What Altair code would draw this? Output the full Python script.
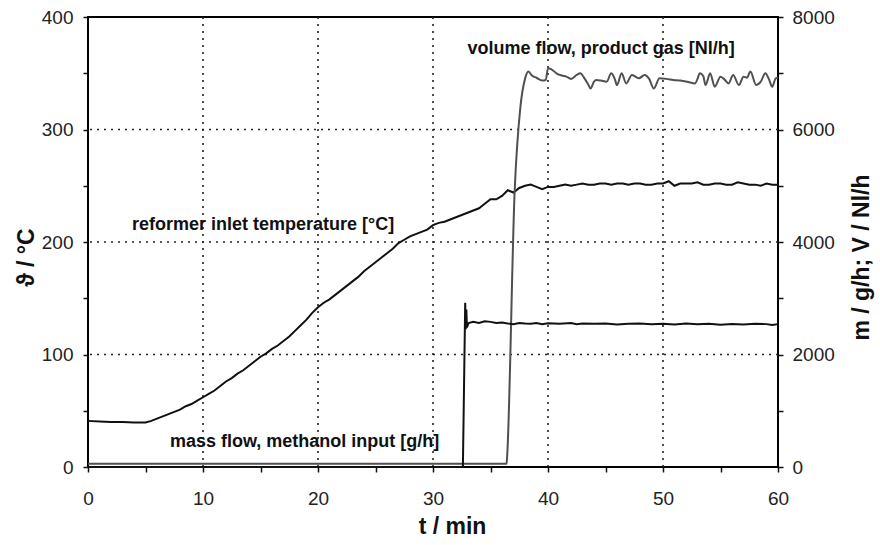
import altair as alt
import pandas as pd

# ---------------- data ----------------
temp_t = [0, 1, 2, 3, 4, 5, 5.5, 6, 6.5, 7, 7.5, 8, 8.5, 9, 9.5, 10, 10.5, 11, 11.5, 12,
          12.5, 13, 13.5, 14, 14.5, 15, 15.5, 16, 16.5, 17, 17.5, 18, 18.5, 19, 19.5, 20,
          20.5, 21, 21.5, 22, 22.5, 23, 23.5, 24, 24.5, 25, 25.5, 26, 26.5, 27, 27.5, 28,
          28.5, 29, 29.5, 30, 30.5, 31, 31.5, 32, 32.5, 33, 33.5, 34, 34.5, 35, 35.5, 36,
          36.5, 37, 37.5, 38, 38.5, 39, 39.5, 40, 40.5, 41, 41.5, 42, 42.5, 43, 43.5, 44,
          44.5, 45, 45.5, 46, 46.5, 47, 47.5, 48, 48.5, 49, 49.5, 50, 50.5, 51, 51.5, 52,
          52.5, 53, 53.5, 54, 54.5, 55, 55.5, 56, 56.5, 57, 57.5, 58, 58.5, 59, 59.5, 60]
temp_v = [41, 40.5, 40, 40, 39.5, 39.5, 41, 43, 45, 47, 49, 51, 54, 56, 59, 62, 65, 68, 72, 76,
          79, 83, 86, 90, 94, 98, 101, 105, 108, 112, 116, 121, 126, 131, 137, 142,
          146, 149, 153, 157, 161, 165, 169, 174, 178, 182, 186, 190, 194, 199, 202, 205,
          207, 209, 211, 215, 217, 218, 220, 222, 224, 226, 228, 230, 234, 238, 238, 241,
          246, 244, 248, 250, 251, 249, 247, 249, 249, 250, 251, 250, 251, 252, 251, 251,
          252, 252, 251, 252, 252, 251, 252, 252, 251, 251, 252, 252, 254, 250, 252, 252,
          252, 253, 251, 251, 252, 252, 251, 251, 253, 252, 251, 251, 250, 252, 251, 251]

mass_t = [0, 32.6, 32.8, 32.85, 32.9, 32.95, 33.1, 33.5, 34, 34.5, 35, 35.5, 36, 36.5, 37,
          37.5, 38, 38.5, 39, 39.5, 40, 41, 42, 42.5, 43, 44, 45, 46, 47, 48, 49, 50, 51,
          52, 53, 54, 55, 56, 57, 58, 59, 59.5, 60]
mass_v = [0, 0, 2920, 2450, 2800, 2480, 2560, 2580, 2560, 2590, 2580, 2560, 2570, 2550, 2540,
          2560, 2550, 2545, 2560, 2540, 2555, 2545, 2560, 2540, 2550, 2545, 2550, 2535, 2545,
          2550, 2540, 2545, 2535, 2550, 2540, 2545, 2530, 2540, 2535, 2545, 2540, 2525, 2540]

vol_t = [0, 36.4, 36.45, 37.1, 37.6, 38.0, 38.3, 38.6, 39, 39.5, 39.8, 40, 40.3, 40.8, 41.2,
         41.6, 42, 42.5, 42.8, 43.2, 43.5, 43.7, 44.0, 44.2, 44.6, 45.1, 45.5, 45.8, 46.0,
         46.4, 46.8, 47.3, 47.6, 47.9, 48.4, 48.8, 49.2, 49.7, 50.3, 50.9, 51.5, 52.1, 52.8,
         53.0, 53.2, 53.5, 53.7, 54.1, 54.5, 55.0, 55.3, 55.7, 56.1, 56.6, 57.0, 57.3, 57.6,
         58.1, 58.5, 58.9, 59.2, 59.5, 59.8, 60]
vol_v = [60, 60, 200, 4900, 6400, 6900, 7030, 6960, 6920, 6870, 6880, 7090, 7070, 6990, 6960,
         6940, 6900, 6970, 7000, 6900, 6800, 6730, 6850, 6880, 6870, 6850, 7000, 6900, 6790,
         7000, 6820, 6970, 6940, 6910, 6970, 6900, 6730, 6910, 6900, 6880, 6870, 6850, 6820,
         6900, 7000, 6950, 6790, 7000, 6760, 6940, 6900, 6820, 6970, 6790, 6940, 6920, 7030,
         6790, 6850, 7000, 6900, 6760, 6910, 6920]

label_text = ["volume flow, product gas [Nl/h]",
              "reformer inlet temperature [°C]",
              "mass flow, methanol input [g/h]"]
label_t = [33.0, 3.83, 7.13]
label_y = [367, 210.7, 18]

grid_x = [10, 20, 30, 40, 50]
grid_y = [100, 200, 300]
x_ticks = list(range(0, 61, 5))
left_ticks = list(range(0, 401, 50))
right_ticks = list(range(0, 8001, 1000))

# ---------------- styling ----------------
FONT = "Liberation Sans"
INK = "#111111"

xscale = alt.Scale(domain=[0, 60], nice=False, zero=False)
ylscale = alt.Scale(domain=[0, 400], nice=False)
yrscale = alt.Scale(domain=[0, 8000], nice=False)

common_axis = dict(grid=False, domain=False, tickSize=5, tickWidth=1.5, tickColor=INK,
                   labelFont=FONT, labelFontSize=19, labelColor="#222222",
                   titleFont=FONT, titleFontSize=23, titleFontWeight="bold",
                   titleColor=INK, titleBaseline="alphabetic", titleAlign="center")

xaxis = alt.Axis(values=x_ticks, labelExpr="datum.value % 10 == 0 ? datum.label : ''",
                 format="d", labelFlush=False, labelPadding=17, title="t / min",
                 titleX=364, titleY=66, **common_axis)
ylaxis = alt.Axis(values=left_ticks, labelExpr="datum.value % 100 == 0 ? datum.label : ''",
                  format="d", labelPadding=10, title="ϑ / °C", orient="left",
                  titleAngle=270, titleX=-55, titleY=240, **common_axis)
yraxis = alt.Axis(values=right_ticks, labelExpr="datum.value % 2000 == 0 ? datum.label : ''",
                  format="d", labelPadding=9, title="m / g/h; V / Nl/h", orient="right",
                  titleAngle=270, titleX=90, titleY=240, **common_axis)

df_temp = pd.DataFrame({"t": temp_t, "v": temp_v})
df_mass = pd.DataFrame({"t": mass_t, "v": mass_v})
df_vol = pd.DataFrame({"t": vol_t, "v": vol_v})
df_lab = pd.DataFrame({"t": label_t, "v": label_y, "label": label_text})
df_gx = pd.DataFrame({"t": grid_x})
df_gy = pd.DataFrame({"v": grid_y})

X = alt.X("t:Q", scale=xscale, axis=xaxis)
YL = alt.Y("v:Q", scale=ylscale, axis=ylaxis)
YR = alt.Y("v:Q", scale=yrscale, axis=yraxis)

dash = dict(strokeDash=[2, 5], strokeWidth=1.6, color="#222222")
gx = alt.Chart(df_gx).mark_rule(**dash).encode(x=X)
gy = alt.Chart(df_gy).mark_rule(**dash).encode(y=YL)

temp_line = alt.Chart(df_temp).mark_line(color=INK, strokeWidth=2).encode(x=X, y=YL)
labels = alt.Chart(df_lab).mark_text(align="left", baseline="alphabetic", font=FONT,
                                     fontSize=18, fontWeight="bold", color=INK).encode(
    x=X, y=YL, text="label:N")

mass_line = alt.Chart(df_mass).mark_line(color=INK, strokeWidth=2).encode(x=X, y=YR)
vol_line = alt.Chart(df_vol).mark_line(color="#505050", strokeWidth=2,
                                       interpolate="monotone").encode(x=X, y=YR)

left = alt.layer(gx, gy, temp_line, labels)
right = alt.layer(vol_line, mass_line)

chart = alt.layer(left, right).resolve_scale(y="independent").properties(
    width=690, height=450,
    padding={"left": 88, "top": 17, "right": 102, "bottom": 78},
    autosize=alt.AutoSizeParams(type="none"),
    background="white",
).configure_view(stroke="black", strokeWidth=2)

chart.save("out.html", embed_options={"renderer": "svg", "actions": False})
